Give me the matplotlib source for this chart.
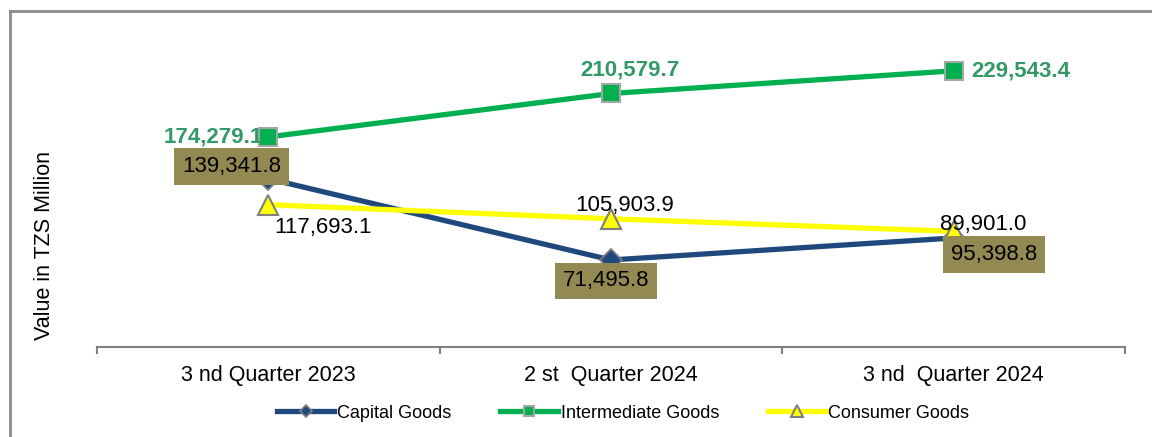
import matplotlib
matplotlib.use("Agg")
import matplotlib.pyplot as plt
from matplotlib.lines import Line2D

plt.rcParams['font.family'] = ['Liberation Sans', 'DejaVu Sans']

categories = ["3 nd Quarter 2023", "2 st  Quarter 2024", "3 nd  Quarter 2024"]
capital = [139341.8, 71495.8, 89901.0]
intermediate = [174279.1, 210579.7, 229543.4]
consumer = [117693.1, 105903.9, 95398.8]

W, H = 1152, 437
fig = plt.figure(figsize=(W / 100, H / 100), dpi=100)
ax = fig.add_axes([97 / W, 1 - 347 / H, (1125 - 97) / W, (347 - 50.5) / H])

x = list(range(len(categories)))
cap_c, int_c, con_c = '#1F497D', '#00B050', '#FFFF00'
edge = '#7F7F7F'

ax.plot(x, capital, color=cap_c, lw=3.8, marker='D', ms=11, mfc=cap_c, mec=edge, mew=1.2, label='Capital Goods', zorder=3)
ax.plot(x, intermediate, color=int_c, lw=3.8, marker='s', ms=12.5, mfc=int_c, mec='#A6A6A6', mew=1.5, label='Intermediate Goods', zorder=3)
ax.plot(x, consumer, color=con_c, lw=3.8, marker='^', ms=15, mfc=con_c, mec=edge, mew=1.5, label='Consumer Goods', zorder=3)

ax.set_xlim(-0.5, 2.5)
ax.set_ylim(-1200, 246500)
ax.set_yticks([])
for s in ['left', 'right', 'top']:
    ax.spines[s].set_visible(False)
ax.spines['bottom'].set_color('#808080')
ax.spines['bottom'].set_linewidth(1.5)
ax.set_xticks([-0.5, 0.5, 1.5, 2.5], minor=False)
ax.set_xticklabels([])
ax.tick_params(axis='x', which='major', length=5, width=1.5, color='#808080', direction='out')
ax.set_xticks(x, minor=True)
ax.set_xticklabels(categories, minor=True, fontsize=15.5, color='#000000')
ax.tick_params(axis='x', which='minor', length=0, pad=13)

box = dict(boxstyle='square,pad=0.35', fc='#938953', ec='none')

def lab(xv, yv, txt, dx, dy, **kw):
    ax.annotate(txt, (xv, yv), xytext=(dx, -dy), textcoords='offset pixels',
                ha='center', va='center', zorder=5, **kw)

fmt = lambda v: f"{v:,.1f}"
FS = 16
lab(0, capital[0], fmt(capital[0]), -37, -12, fontsize=FS, bbox=box)
lab(1, capital[1], fmt(capital[1]), -5, 21, fontsize=FS, bbox=box)
lab(2, capital[2], fmt(capital[2]), 30, -13, fontsize=FS)

lab(0, consumer[0], fmt(consumer[0]), 55, 23, fontsize=FS)
lab(1, consumer[1], fmt(consumer[1]), 14, -13, fontsize=FS)
lab(2, consumer[2], fmt(consumer[2]), 40, 23, fontsize=FS, bbox=box)

gk = dict(fontsize=16, fontweight='bold', color='#339966')
lab(0, intermediate[0], fmt(intermediate[0]), -55, 0, **gk)
lab(1, intermediate[1], fmt(intermediate[1]), 19, -23.5, **gk)
lab(2, intermediate[2], fmt(intermediate[2]), 67, 0, **gk)

fig.text(45 / W, 1 - 245 / H, 'Value in TZS Million', rotation=90, ha='center', va='center', fontsize=15.5)

leg = fig.legend(loc='center', bbox_to_anchor=(623 / W, 1 - 413 / H), ncol=3, frameon=False,
                 fontsize=13, handlelength=3.2, columnspacing=2.7, handletextpad=0.15,
                 markerscale=0.6)

fig.add_artist(Line2D([10 / W, 10 / W], [1 - 11 / H, 0], transform=fig.transFigure, color='#8C8C8C', lw=2))
fig.add_artist(Line2D([10 / W, 1], [1 - 11 / H, 1 - 11 / H], transform=fig.transFigure, color='#8C8C8C', lw=2))

fig.savefig('out.png', dpi=100)
